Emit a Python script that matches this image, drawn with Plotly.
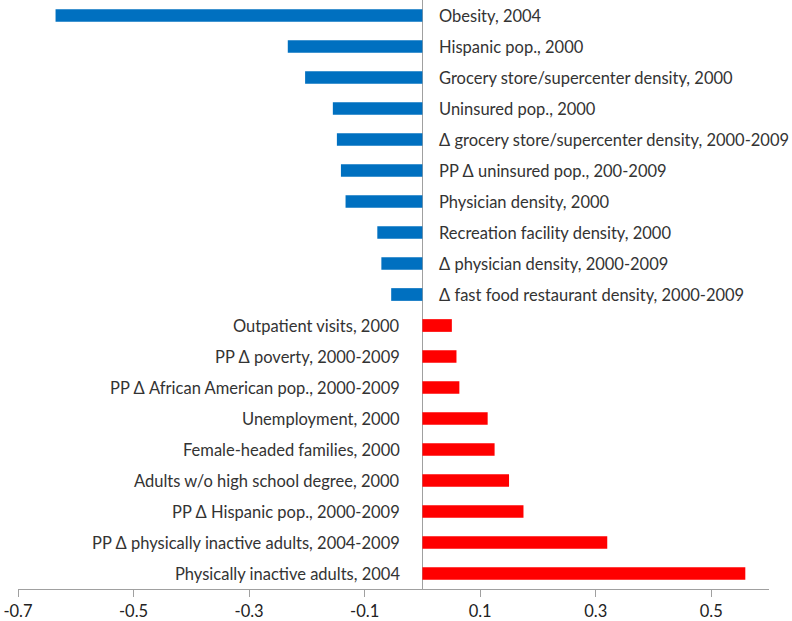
import plotly.graph_objects as go

categories = [
    "Obesity, 2004",
    "Hispanic pop., 2000",
    "Grocery store/supercenter density, 2000",
    "Uninsured pop., 2000",
    "Δ grocery store/supercenter density, 2000-2009",
    "PP Δ uninsured pop., 200-2009",
    "Physician density, 2000",
    "Recreation facility density, 2000",
    "Δ physician density, 2000-2009",
    "Δ fast food restaurant density, 2000-2009",
    "Outpatient visits, 2000",
    "PP Δ poverty, 2000-2009",
    "PP Δ African American pop., 2000-2009",
    "Unemployment, 2000",
    "Female-headed families, 2000",
    "Adults w/o high school degree, 2000",
    "PP Δ Hispanic pop., 2000-2009",
    "PP Δ physically inactive adults, 2004-2009",
    "Physically inactive adults, 2004",
]
values = [
    -0.635, -0.233, -0.203, -0.155, -0.148, -0.141, -0.133, -0.078, -0.071, -0.054,
    0.051, 0.059, 0.064, 0.113, 0.125, 0.150, 0.175, 0.320, 0.559,
]
tick_vals = [-0.7, -0.5, -0.3, -0.1, 0.1, 0.3, 0.5]
tick_text = ["-0.7", "-0.5", "-0.3", "-0.1", "0.1", "0.3", "0.5"]

BLUE = "#0070C0"
RED = "#FF0000"
colors = [BLUE if v < 0 else RED for v in values]

fig = go.Figure(go.Bar(
    x=values, y=categories, orientation="h",
    marker=dict(color=colors, line=dict(width=0)),
    width=0.41,
))

annotations = []
for c, v in zip(categories, values):
    if v < 0:
        annotations.append(dict(x=0, y=c, xref="x", yref="y", text=c, showarrow=False,
                                xanchor="left", xshift=15, yanchor="middle"))
    else:
        annotations.append(dict(x=0, y=c, xref="x", yref="y", text=c, showarrow=False,
                                xanchor="right", xshift=-20, yanchor="middle"))

fig.update_layout(
    width=792, height=621,
    margin=dict(l=18, r=23, t=0, b=32),
    paper_bgcolor="white", plot_bgcolor="white",
    font=dict(family="Lato, Open Sans, sans-serif", size=16.5, color="#333333"),
    showlegend=False,
    annotations=annotations,
    xaxis=dict(
        range=[-0.7, 0.6], tickvals=tick_vals, ticktext=tick_text,
        showgrid=False, zeroline=True, zerolinecolor="#A0A0A0", zerolinewidth=1,
        showline=True, linecolor="#A0A0A0", linewidth=1,
        ticks="outside", ticklen=7, tickcolor="#A0A0A0",
        tickfont=dict(size=16.5, color="#222222"),
    ),
    yaxis=dict(
        autorange="reversed", showticklabels=False, showgrid=False,
        zeroline=False, showline=False, ticks="",
    ),
    bargap=0.59,
)

fig.write_html("out.html",
               config={"displayModeBar": False},
               post_script="document.body.style.margin='0';document.body.style.padding='0';")
